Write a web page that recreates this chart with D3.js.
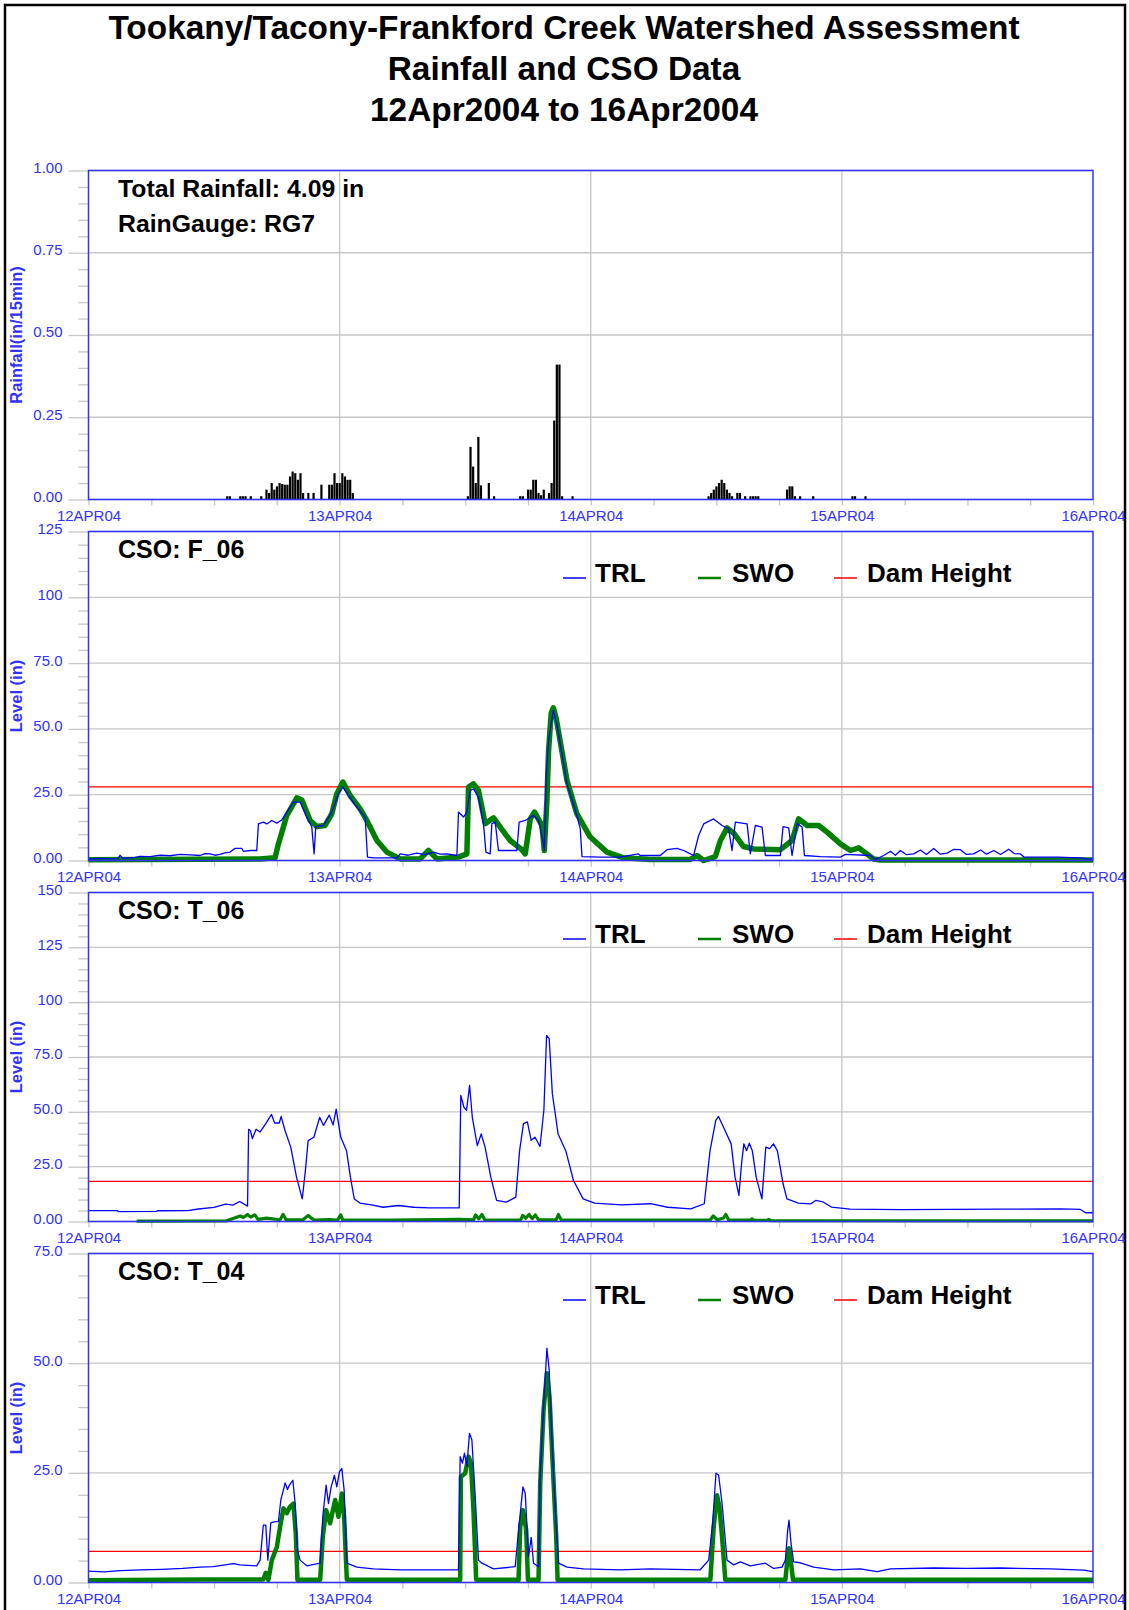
<!DOCTYPE html>
<html><head><meta charset="utf-8">
<script src="https://cdn.jsdelivr.net/npm/d3@7/dist/d3.min.js"></script>
<style>
body{margin:0;background:#fff}
svg text{font-family:"Liberation Sans",Arial,Helvetica,sans-serif}
</style>
</head><body>
<svg id="c" width="1129" height="1610"></svg>
<script>
// ---------- DATA ----------
const titleLines = ["Tookany/Tacony-Frankford Creek Watershed Assessment","Rainfall and CSO Data","12Apr2004 to 16Apr2004"];
const dayLabels = ["12APR04","13APR04","14APR04","15APR04","16APR04"];
const rainInfo = ["Total Rainfall: 4.09 in","RainGauge: RG7"];
const legendNames = ["TRL","SWO","Dam Height"];
const csoNames = ["CSO: F_06","CSO: T_06","CSO: T_04"];
const damHeights = [28.0, 18.3, 7.1];

// rainfall, hours since 12APR04 00:00 and inches per 15 min
const rainHours = [13.25,13.5,14.5,14.75,15,15.5,16.5,17,17.25,17.5,17.75,18,18.25,18.5,18.75,19,19.25,19.5,19.75,20,20.25,20.5,21,21.5,22.25,23,23.25,23.5,23.75,24,24.25,24.5,24.75,25,25.25,
  36.25,36.5,36.75,37,37.25,37.5,38.25,38.75,41.25,41.5,42,42.25,42.5,42.75,43,43.25,43.5,44,44.25,44.5,44.75,45,45.25,46.25,
  59.25,59.5,59.75,60,60.25,60.5,60.75,61,61.25,61.5,62,62.25,62.75,63.25,63.5,63.75,64,66.75,67,67.25,67.5,68,69.25,73,73.25,74.25];
const rainValues = [0.01,0.01,0.01,0.01,0.01,0.01,0.01,0.03,0.02,0.05,0.03,0.04,0.05,0.047,0.045,0.045,0.07,0.085,0.08,0.06,0.08,0.02,0.02,0.02,0.045,0.045,0.045,0.08,0.05,0.05,0.08,0.07,0.06,0.06,0.02,
  0.01,0.16,0.10,0.05,0.19,0.043,0.05,0.01,0.01,0.01,0.03,0.03,0.06,0.06,0.02,0.013,0.03,0.02,0.05,0.24,0.41,0.41,0.01,0.01,
  0.01,0.02,0.03,0.04,0.05,0.06,0.05,0.03,0.02,0.01,0.02,0.02,0.01,0.01,0.01,0.01,0.01,0.03,0.04,0.04,0.01,0.01,0.01,0.01,0.01,0.01];

// CSO F_06 level (in): [hour, value]
const f06TRL = [[0,0.5],[1.1,0.8],[2.06,0.6],[2.82,0.7],[3.01,2.0],[3.3,0.8],[4.45,1.2],[4.92,1.6],[5.88,1.5],[6.84,2.0],[7.79,1.8],[8.75,2.3],[9.71,2.1],[10.66,1.9],[11.14,2.6],[11.62,2.5],[12.1,2.0],[12.57,2.3],[13.05,2.9],[13.53,3.2],[14.01,4.6],[14.65,4.6],[14.8,3.5],[15.44,3.8],[16.08,3.8],[16.24,13.9],[16.71,14.6],[17.04,13.9],[17.52,15.2],[18.0,14.2],[18.47,15.4],[18.95,18.4],[19.58,22.2],[20.22,22.2],[20.86,16.5],[21.34,12.7],[21.56,2.5],[21.72,12.9],[22.45,13.3],[23.25,18.4],[23.89,25.3],[24.31,27.9],[24.84,24.7],[25.65,20.3],[26.44,16.5],[26.66,1.3],[27.23,1.0],[29.47,1.0],[29.79,2.5],[30.55,2.0],[31.38,2.8],[32.18,2.2],[32.97,3.2],[33.61,2.4],[34.25,2.5],[35.21,1.9],[35.36,18.4],[35.84,16.5],[36.16,18.4],[36.48,26.6],[36.79,27.2],[37.27,24.1],[37.75,14.0],[37.98,3.2],[38.39,2.5],[38.55,14.0],[38.87,14.6],[39.18,3.8],[40.94,3.8],[41.16,14.6],[41.74,15.2],[42.53,17.1],[43.01,15.2],[43.43,7.6],[43.56,3.8],[43.75,32.9],[43.97,45.6],[44.42,57],[44.8,51],[45.73,29],[46.68,17],[47.0,12],[47.16,1.5],[48.91,1.3],[50.82,1.3],[52.54,2.5],[52.73,1.9],[54.64,1.9],[55.29,4.1],[56.24,4.6],[56.88,3.8],[57.52,2.5],[57.83,1.9],[58.31,9.5],[58.79,13.9],[59.74,15.8],[60.55,13.3],[61.18,12.0],[61.5,3.8],[61.82,14.6],[62.94,13.9],[63.25,2.5],[63.73,13.3],[64.37,12.7],[64.69,1.9],[66.12,1.9],[66.38,12.9],[66.92,12.4],[67.24,1.9],[67.72,14.0],[68.2,12.7],[68.42,1.9],[69.95,1.5],[71.86,1.3],[72.34,2.3],[74.73,1.9],[75.2,0.4],[76.0,1.9],[76.64,3.5],[77.12,2.0],[77.6,3.8],[78.17,2.2],[78.87,2.5],[79.51,4.0],[80.08,2.3],[80.78,4.6],[81.42,2.4],[82.06,2.8],[82.66,4.2],[83.33,4.1],[83.9,2.3],[84.6,2.5],[85.25,4.0],[85.82,2.4],[86.52,3.8],[87.16,2.3],[87.95,4.3],[88.5,2.6],[89.07,2.5],[89.39,1.3],[92.58,1.3],[94.81,1.0],[95.45,0.6],[96,0.6]];
const f06SWO = [[0,0.3],[16.4,0.6],[17.83,1.0],[18.15,6.3],[18.95,17.1],[19.91,23.8],[20.39,23.0],[21.18,15.2],[21.82,12.9],[22.61,13.3],[23.25,17.7],[23.73,25.3],[24.31,29.8],[25.0,24.7],[25.96,19.6],[26.6,15.2],[27.56,7.6],[28.51,3.2],[29.79,0.6],[31.7,0.6],[32.49,3.8],[33.3,0.6],[35.36,1.3],[36.16,2.5],[36.32,27.9],[36.79,29.1],[37.27,26.6],[37.91,14.0],[38.71,16.2],[39.35,12.7],[40.3,7.6],[41.42,4.1],[41.74,2.5],[42.22,15.8],[42.63,18.4],[43.34,13.3],[43.56,3.8],[43.81,22.8],[43.97,41.8],[44.22,56],[44.42,58],[44.7,54],[45.73,30.4],[46.68,17.7],[47.95,8.9],[49.55,3.2],[51.14,1.0],[53.69,0.4],[57.52,0.4],[58.16,1.9],[58.79,0],[59.91,1.5],[60.39,7.6],[61.03,12.4],[61.66,10.4],[62.61,5.3],[63.57,4.4],[66.12,4.1],[67.24,7.6],[67.87,15.8],[68.68,13.3],[69.78,13.3],[70.59,10.8],[71.86,6.3],[72.82,3.8],[73.61,4.8],[75.04,0.6],[75.68,0.2],[96,0.2]];

// CSO T_06 level (in)
const t06TRL = [[0,5.0],[2.75,5.0],[2.85,4.5],[6.5,4.6],[6.6,4.9],[9.5,5.0],[10.5,5.7],[12,6.4],[13.1,7.9],[13.8,7.5],[14.45,9.1],[15.2,7.0],[15.3,42.0],[15.47,41.5],[15.66,37.8],[16.02,42.1],[16.39,40.8],[16.94,44.6],[17.49,48.8],[17.79,44.9],[18.23,44.9],[18.41,47.9],[18.78,41.5],[19.33,33.9],[19.88,20.2],[20.43,10.3],[20.73,23.3],[20.99,36.9],[21.54,38.4],[22.09,47.5],[22.46,43.8],[23.01,48.5],[23.38,44.0],[23.67,51.2],[24.11,38.4],[24.66,32.3],[25.03,20.2],[25.4,10.3],[25.95,8.4],[27.05,7.6],[28.15,6.5],[29.62,7.3],[31.09,6.5],[32.57,6.2],[35.43,6.2],[35.58,57.5],[35.87,52.2],[36.13,50.7],[36.42,62.1],[36.68,47.5],[37.16,34.6],[37.53,39.9],[37.9,33.9],[38.45,20.2],[39.0,9.6],[39.92,8.8],[40.84,11.1],[41.2,32.3],[41.57,44.6],[41.94,45.4],[42.31,37.0],[42.67,38.4],[43.15,34.2],[43.52,50.7],[43.78,84.9],[44.03,83.4],[44.33,58.3],[44.88,39.9],[45.61,32.3],[46.35,18.7],[47.27,10.3],[48.37,8.4],[50.94,7.6],[53.7,8.1],[55.36,6.5],[57.56,5.8],[58.85,8.1],[59.4,32.3],[59.95,46.1],[60.21,47.9],[60.69,43.0],[61.42,35.4],[61.79,20.2],[62.16,11.9],[62.41,26.3],[62.63,35.4],[62.89,32.3],[63.15,35.7],[63.44,32.3],[63.81,20.2],[64.36,10.3],[64.73,33.9],[65.1,33.2],[65.46,35.4],[65.83,32.3],[66.38,17.2],[66.75,10.3],[67.85,8.4],[69.0,8.0],[69.5,9.6],[70.2,8.9],[71.0,6.6],[72.8,5.6],[77.6,5.4],[87.2,5.6],[92.9,5.8],[94.8,5.5],[95.3,4.0],[96,4.0]];
const t06SWO = [[4.6,0.2],[13.2,0.3],[14.5,2.5],[14.8,1.8],[15.2,3.2],[15.5,2.0],[15.9,3.0],[16.2,1.0],[17,1.5],[18.3,0.8],[18.6,3.2],[18.9,0.7],[20.5,0.8],[21.0,2.8],[21.3,1.5],[21.6,0.6],[23,0.9],[23.8,0.6],[24.1,3.0],[24.3,0.6],[29,0.6],[35.4,1.0],[36.8,0.8],[37.0,3.0],[37.3,1.2],[37.6,3.2],[37.9,0.6],[41.3,0.7],[41.5,2.8],[41.8,1.5],[42.1,3.2],[42.4,1.3],[42.7,3.0],[43,0.8],[44.7,0.8],[44.9,3.2],[45.2,0.6],[59.4,0.6],[59.7,2.5],[60.1,0.8],[60.7,1.6],[60.9,3.2],[61.2,0.6],[63.3,0.6],[63.4,1.2],[63.6,0.5],[64.9,0.5],[65.0,1.0],[65.2,0.4],[96,0.3]];

// CSO T_04 level (in)
const t04TRL = [[0,2.6],[1.5,2.4],[3,2.7],[5,2.9],[7,3.0],[9,3.2],[10.66,3.5],[11.93,3.6],[13.85,4.3],[14.49,4.0],[16.08,3.8],[16.4,5.1],[16.71,13.1],[16.94,13.1],[17.14,5.1],[17.42,13.6],[17.83,13.9],[18.15,13.9],[18.38,18.8],[18.63,21.1],[18.79,22.7],[19.01,21.2],[19.2,22.2],[19.53,23.3],[19.75,18.0],[19.97,7.4],[20.22,5.1],[20.86,3.8],[22.14,4.4],[22.39,15.0],[22.71,22.2],[22.93,18.0],[23.19,21.8],[23.5,24.4],[23.73,21.8],[23.98,25.2],[24.21,26.0],[24.43,21.1],[24.69,4.4],[25.65,3.5],[27.23,3.1],[29.79,2.9],[32.97,2.9],[35.36,2.9],[35.52,28.7],[35.74,27.2],[35.93,29.5],[36.16,26.4],[36.41,34.0],[36.64,32.5],[36.96,19.6],[37.27,5.1],[37.6,4.4],[38.71,3.1],[40.78,3.6],[41.1,11.9],[41.52,21.8],[41.74,20.3],[42.05,5.9],[42.31,10.3],[42.53,4.4],[43.01,3.6],[43.17,24.9],[43.49,40.1],[43.81,53.4],[44.03,48.4],[44.29,32.5],[44.61,16.6],[44.92,4.4],[45.73,3.5],[47.31,3.1],[50.82,2.9],[53.69,3.1],[58.46,2.9],[59.27,5.1],[59.65,13.5],[59.97,24.9],[60.22,24.5],[60.55,18.0],[60.86,9.7],[61.02,5.1],[61.66,4.0],[62.3,4.7],[63.25,3.8],[64.69,4.4],[65.48,3.2],[66.28,3.5],[66.6,5.1],[66.82,11.9],[66.95,14.2],[67.14,8.9],[67.39,4.7],[68.03,4.5],[69.3,3.5],[71.22,2.9],[73.77,3.1],[75.37,2.5],[76.64,3.1],[80.78,3.3],[83.97,3.2],[87.16,3.3],[91.94,3.1],[95.12,2.8],[96,2.5]];
const t04SWO = [[0,0.5],[10.66,0.7],[16.71,0.7],[16.94,2.2],[17.19,0.6],[17.52,5.1],[18.0,8.1],[18.31,12.7],[18.63,16.9],[18.95,15.8],[19.27,17.3],[19.58,18.0],[19.81,11.2],[19.97,0.6],[22.14,0.6],[22.39,10.4],[22.71,16.5],[23.09,13.5],[23.57,18.8],[23.89,15.0],[24.21,20.3],[24.43,15.0],[24.69,0.6],[35.52,0.6],[35.59,24.1],[36.0,24.9],[36.32,28.7],[36.55,27.2],[36.79,16.5],[37.05,0.6],[41.1,0.6],[41.26,12.7],[41.52,16.5],[41.83,12.0],[42.0,0.6],[43.01,0.6],[43.17,22.5],[43.49,39.3],[43.81,47.7],[44.06,42.4],[44.39,25.7],[44.7,10.4],[44.83,0.6],[59.43,0.6],[59.75,12.7],[60.07,19.9],[60.29,17.3],[60.55,10.4],[60.86,0.6],[66.6,0.6],[66.76,4.4],[66.95,7.8],[67.14,4.4],[67.33,0.6],[96,0.6]];

// axis ticks
const rainTicks = [0,0.25,0.5,0.75,1.0], rainTickLabels = ["0.00","0.25","0.50","0.75","1.00"];
const f06Ticks = [0,25,50,75,100,125], f06TickLabels = ["0.00","25.0","50.0","75.0","100","125"];
const t06Ticks = [0,25,50,75,100,125,150], t06TickLabels = ["0.00","25.0","50.0","75.0","100","125","150"];
const t04Ticks = [0,25,50,75], t04TickLabels = ["0.00","25.0","50.0","75.0"];

// ---------- DRAWING ----------
const svg = d3.select("#c");
const BLUE = "#3232ff", GRID = "#c6c6c6";
const L = 88.5, R = 1093, PH = 329;
const tops = [170.5, 531.5, 892.5, 1253.5];
const x = d3.scaleLinear().domain([0, 96]).range([L, R]);

svg.append("rect").attr("x",0).attr("y",0).attr("width",1129).attr("height",1610).attr("fill","#fff");
svg.append("rect").attr("x",5).attr("y",5).attr("width",1120).attr("height",1640)
  .attr("fill","none").attr("stroke","#000").attr("stroke-width",2.5);

svg.selectAll("text.title").data(titleLines).enter().append("text")
  .attr("x",564).attr("y",(d,i)=>39+i*41).attr("text-anchor","middle")
  .attr("font-size",33.4).attr("font-weight","bold").attr("fill","#000").text(d=>d);

function panel(top, maxV, ticks, labels, minorStep, yTitle) {
  const y = d3.scaleLinear().domain([0, maxV]).range([top + PH, top]);
  const g = svg.append("g");
  g.selectAll("line.hg").data(ticks).enter().append("line")
    .attr("x1",L).attr("x2",R).attr("y1",d=>y(d)).attr("y2",d=>y(d))
    .attr("stroke",GRID).attr("stroke-width",1.3);
  g.selectAll("line.vg").data([24,48,72]).enter().append("line")
    .attr("x1",d=>x(d)).attr("x2",d=>x(d)).attr("y1",top).attr("y2",top+PH)
    .attr("stroke",GRID).attr("stroke-width",1.3);
  const minors = d3.range(0, maxV + 1e-9, minorStep).filter(v => !ticks.some(t => Math.abs(t - v) < 1e-9));
  const minorAxis = d3.axisLeft(y).tickValues(minors).tickSize(10).tickFormat("");
  const gm = g.append("g").attr("transform",`translate(${L},0)`).call(minorAxis);
  gm.select(".domain").remove();
  gm.selectAll("line").attr("stroke",GRID).attr("stroke-width",1.3);
  const yAxis = d3.axisLeft(y).tickValues(ticks).tickSize(20).tickPadding(6)
    .tickFormat((d,i)=>labels[i]);
  const ga = g.append("g").attr("transform",`translate(${L},0)`).call(yAxis);
  ga.select(".domain").remove();
  ga.selectAll("line").attr("stroke",GRID).attr("stroke-width",1.3);
  ga.selectAll("text").attr("fill",BLUE).attr("font-size",15).attr("dy","0.13em")
    .attr("font-family",'"Liberation Sans",Arial,sans-serif');
  const xAxis = d3.axisBottom(x).tickValues(d3.range(0,97,6)).tickSize(6).tickPadding(5)
    .tickFormat(d => d % 24 === 0 ? dayLabels[d/24] : "");
  const gx = g.append("g").attr("transform",`translate(0,${top+PH})`).call(xAxis);
  gx.select(".domain").remove();
  gx.selectAll("line").attr("stroke",GRID).attr("stroke-width",1.3);
  gx.selectAll("text").attr("fill",BLUE).attr("font-size",15)
    .attr("font-family",'"Liberation Sans",Arial,sans-serif');
  g.append("text").attr("transform",`translate(22,${top+PH/2}) rotate(-90)`)
    .attr("text-anchor","middle").attr("font-size",16.5).attr("font-weight","bold")
    .attr("fill",BLUE).text(yTitle);
  return {g, y};
}

function frame(g, top) {
  g.append("rect").attr("x",L).attr("y",top).attr("width",R-L).attr("height",PH)
    .attr("fill","none").attr("stroke",BLUE).attr("stroke-width",1.5);
}

// Panel 1: rainfall
{
  const {g, y} = panel(tops[0], 1.0, rainTicks, rainTickLabels, 0.05, "Rainfall(in/15min)");
  const bars = rainHours.map((h,i)=>({h, v: rainValues[i]}));
  g.selectAll("rect.bar").data(bars).enter().append("rect")
    .attr("x",d=>x(d.h)-1).attr("width",2.2)
    .attr("y",d=>y(d.v)).attr("height",d=>y(0)-y(d.v)).attr("fill","#000");
  frame(g, tops[0]);
  g.selectAll("text.info").data(rainInfo).enter().append("text")
    .attr("x",118).attr("y",(d,i)=>tops[0]+26+i*35.5)
    .attr("font-size",24.8).attr("font-weight","bold").attr("fill","#000").text(d=>d);
}

const csoPanels = [
  {name: csoNames[0], trl: f06TRL, swo: f06SWO, dam: damHeights[0], max: 125, ticks: f06Ticks, labels: f06TickLabels, swoW: 5.5},
  {name: csoNames[1], trl: t06TRL, swo: t06SWO, dam: damHeights[1], max: 150, ticks: t06Ticks, labels: t06TickLabels, swoW: 3.2},
  {name: csoNames[2], trl: t04TRL, swo: t04SWO, dam: damHeights[2], max: 75, ticks: t04Ticks, labels: t04TickLabels, swoW: 4.5}
];

csoPanels.forEach((p, k) => {
  const top = tops[k+1];
  const {g, y} = panel(top, p.max, p.ticks, p.labels, 5, "Level (in)");
  const line = d3.line().x(d=>x(d[0])).y(d=>y(d[1]));
  g.append("line").attr("x1",L).attr("x2",R).attr("y1",y(p.dam)).attr("y2",y(p.dam))
    .attr("stroke","#ff0000").attr("stroke-width",1.3);
  g.append("path").datum(p.swo).attr("d",line).attr("fill","none")
    .attr("stroke","#008000").attr("stroke-width",p.swoW).attr("stroke-linejoin","round");
  g.append("path").datum(p.trl).attr("d",line).attr("fill","none")
    .attr("stroke","#0000ff").attr("stroke-width",1.3).attr("stroke-linejoin","round");
  frame(g, top);
  g.append("text").attr("x",118).attr("y",top+26).attr("font-size",25)
    .attr("font-weight","bold").attr("fill","#000").text(p.name);
  const legX = [563, 698, 834], legTX = [595, 732, 867];
  const legC = ["#0000ff","#008000","#ff0000"], legW = [1.5, 2.5, 1.5];
  legendNames.forEach((nm, i) => {
    g.append("line").attr("x1",legX[i]).attr("x2",legX[i]+23)
      .attr("y1",top+46.5).attr("y2",top+46.5).attr("stroke",legC[i]).attr("stroke-width",legW[i]);
    g.append("text").attr("x",legTX[i]).attr("y",top+50).attr("font-size",26)
      .attr("font-weight","bold").attr("fill","#000").text(nm);
  });
});
</script>
</body></html>
